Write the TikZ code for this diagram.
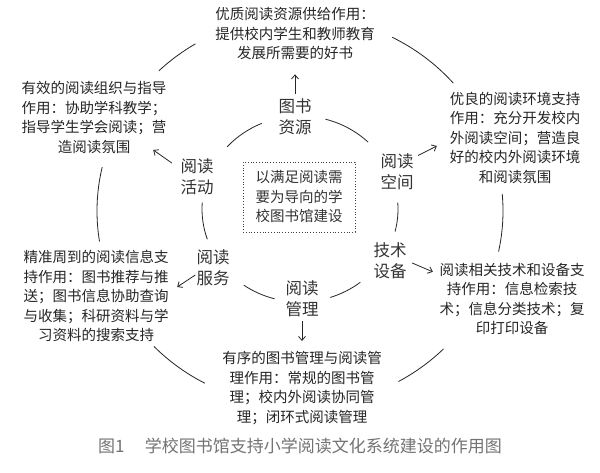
\documentclass[tikz,border=0pt]{standalone}
\usepackage{fontspec}
\newfontfamily\cjk{Noto Sans CJK SC}
\usetikzlibrary{arrows.meta,calc}
\begin{document}
\begin{tikzpicture}[x=1pt,y=1pt,
  blk/.style={font=\cjk\fontsize{14.5}{19.5}\selectfont, align=center, inner sep=1pt, text=black!85},
  lbl/.style={font=\cjk\fontsize{16.5}{21}\selectfont, align=center, inner sep=1pt, text=black!80},
  corebox/.style={draw=black!75, dotted, line width=0.8pt, font=\cjk\fontsize{14.5}{19.5}\selectfont, align=center, minimum width=112pt, minimum height=70pt, inner sep=1pt, text=black!80},
  ring/.style={line width=0.8pt, draw=black!85},
  arr/.style={-{Straight Barb[length=4pt,width=7pt]}, line width=0.8pt, draw=black!85}]
\useasboundingbox (0,0) rectangle (600,473);
\fill[white] (0,0) rectangle (600,473);

\coordinate (oc) at (300,262);
\coordinate (ic) at (300,264);

% outer ring arcs
\foreach \a/\b in {121/134, 41/63, -12/5, -61/-45, 224/242, 167/189}
  \draw[ring] ($(oc)+(\a:203pt and 195pt)$) arc[start angle=\a, end angle=\b, x radius=203pt, y radius=195pt];
% inner ring arcs
\foreach \a/\b in {113/138, 46/75, -14/4, -72/-52, 235/255, 176/199}
  \draw[ring] ($(ic)+(\a:98pt and 93pt)$) arc[start angle=\a, end angle=\b, x radius=98pt, y radius=93pt];

% inner labels
\node[lbl] (res) at (295,356) {图书\\资源};
\node[lbl] (space) at (397,301) {阅读\\空间};
\node[lbl] (tech) at (390,212) {技术\\设备};
\node[lbl] (mgmt) at (302,174) {阅读\\管理};
\node[lbl] (serv) at (213,205) {阅读\\服务};
\node[lbl] (act) at (197,296) {阅读\\活动};
\node[corebox] (core) at (299,276) {以满足阅读需\\要为导向的学\\校图书馆建设};

% outer blocks
\node[blk] (top) at (295,439) {优质阅读资源供给作用：\\提供校内学生和教师教育\\发展所需要的好书};
\node[blk] (tl) at (94,355.5) {有效的阅读组织与指导\\作用：协助学科教学；\\指导学生学会阅读；营\\造阅读氛围};
\node[blk] (tr) at (515,335.5) {优良的阅读环境支持\\作用：充分开发校内\\外阅读空间；营造良\\好的校内外阅读环境\\和阅读氛围};
\node[blk] (lb) at (96,177) {精准周到的阅读信息支\\持作用：图书推荐与推\\送；图书信息协助查询\\与收集；科研资料与学\\习资料的搜索支持};
\node[blk] (rb) at (512,174) {阅读相关技术和设备支\\持作用：信息检索技\\术；信息分类技术；复\\印打印设备};
\node[blk] (bot) at (302,85) {有序的图书管理与阅读管\\理作用：常规的图书管\\理；校内外阅读协同管\\理；闭环式阅读管理};

% arrows
\draw[arr] ([yshift=4pt]res.north) -- ([yshift=-13pt]top.south);
\draw[arr] ([xshift=3.5pt,yshift=-2.75pt]space.north east) -- ([xshift=-11.75pt,yshift=-8.5pt]tr.west);
\draw[arr] ([xshift=4.5pt,yshift=-2pt]tech.east) -- ([xshift=-5.5pt,yshift=-10pt]rb.north west);
\draw[arr] ([yshift=-3pt]mgmt.south) -- ([yshift=9.3pt]bot.north);
\draw[arr] ([yshift=-7pt]serv.west) -- ([xshift=7.5pt,yshift=9pt]lb.east);
\draw[arr] ([xshift=-7.5pt,yshift=14pt]act.west) -- ([xshift=-14.5pt,yshift=4.7pt]tl.south east);

% caption
\node[font=\cjk\fontsize{17}{20}\selectfont, text=black!55, inner sep=0pt] (cap) at (300,27) {图1\hspace{1.2em}学校图书馆支持小学阅读文化系统建设的作用图};
\end{tikzpicture}
\end{document}
